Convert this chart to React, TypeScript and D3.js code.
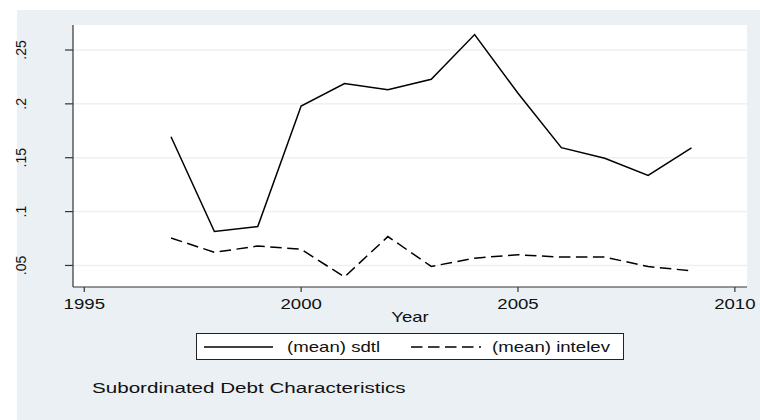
import React from "react";
import * as d3 from "d3";

const years = [1997, 1998, 1999, 2000, 2001, 2002, 2003, 2004, 2005, 2006, 2007, 2008, 2009];
const sdtl = [0.1695, 0.0815, 0.0862, 0.198, 0.2189, 0.2132, 0.2228, 0.2643, 0.2098, 0.1593, 0.1495, 0.1335, 0.1592];
const intelev = [0.0755, 0.0622, 0.068, 0.065, 0.0393, 0.0768, 0.0491, 0.0568, 0.0599, 0.0578, 0.0578, 0.049, 0.045];
const xTicks = [1995, 2000, 2005, 2010];
const yTicks = [0.05, 0.1, 0.15, 0.2, 0.25];
const yTickLabels = [".05", ".1", ".15", ".2", ".25"];
const seriesNames = ["(mean) sdtl", "(mean) intelev"];
const titleText = "Subordinated Debt Characteristics";
const xTitle = "Year";

const W = 760;
const H = 420;
const PL = 73, PR = 747, PT = 25, PB = 287;
const FONT = "'Liberation Sans', Arial, Helvetica, sans-serif";
const SX = 1.33;
const DASH = "11.5,5.5";

export default function App() {
  const x = d3.scaleLinear().domain([1994.74, 2010.28]).range([PL, PR]);
  const y = d3.scaleLinear().domain([0.03, 0.2732]).range([PB, PT]);
  const line = d3
    .line<[number, number]>()
    .x((d) => x(d[0]))
    .y((d) => y(d[1]));
  const sdtlPath = line(years.map((yr, i) => [yr, sdtl[i]] as [number, number])) || "";
  const intPath = line(years.map((yr, i) => [yr, intelev[i]] as [number, number])) || "";

  const hText = (
    key: string,
    tx: number,
    ty: number,
    s: string,
    anchor: string,
    size = 14
  ) => (
    <text
      key={key}
      transform={`translate(${tx},${ty}) scale(${SX},1)`}
      textAnchor={anchor}
      fontSize={size}
      fontFamily={FONT}
      fill="#111"
    >
      {s}
    </text>
  );

  return (
    <svg
      width={W}
      height={H}
      style={{ position: "absolute", left: 0, top: 0, background: "#fff" }}
    >
      <rect x={17} y={10} width={W - 17} height={H - 10} fill="#eaf0f3" />
      <rect x={PL} y={PT} width={PR - PL} height={PB - PT} fill="#ffffff" />
      {yTicks.map((t) => (
        <line
          key={"g" + t}
          x1={PL}
          x2={PR}
          y1={y(t)}
          y2={y(t)}
          stroke="#eaf2f3"
          strokeWidth={1.5}
        />
      ))}
      {/* axes */}
      <line x1={PL} x2={PL} y1={PT} y2={PB} stroke="#333" strokeWidth={1.2} />
      <line x1={PL} x2={PR} y1={PB} y2={PB} stroke="#333" strokeWidth={1.2} />
      {yTicks.map((t, i) => (
        <g key={"yt" + t}>
          <line x1={PL - 8} x2={PL} y1={y(t)} y2={y(t)} stroke="#333" strokeWidth={1.2} />
          <text
            transform={`translate(26,${y(t)}) rotate(-90)`}
            textAnchor="middle"
            fontSize={14}
            fontFamily={FONT}
            fill="#111"
          >
            {yTickLabels[i]}
          </text>
        </g>
      ))}
      {xTicks.map((t) => (
        <g key={"xt" + t}>
          <line x1={x(t)} x2={x(t)} y1={PB} y2={PB + 5} stroke="#333" strokeWidth={1.2} />
          {hText("xl" + t, x(t), 309, String(t), "middle")}
        </g>
      ))}
      {hText("xtitle", (PL + PR) / 2, 322, xTitle, "middle")}
      <path d={sdtlPath} fill="none" stroke="#000" strokeWidth={1.5} strokeLinejoin="miter" />
      <path d={intPath} fill="none" stroke="#000" strokeWidth={1.5} strokeDasharray={DASH} />
      {/* legend */}
      <rect x={196.5} y={333.5} width={427} height={26} fill="#fff" stroke="#222" strokeWidth={1} />
      <line x1={204} x2={273} y1={347} y2={347} stroke="#000" strokeWidth={1.5} />
      {hText("l1", 287, 352, seriesNames[0], "start")}
      <line x1={411} x2={481} y1={347} y2={347} stroke="#000" strokeWidth={1.5} strokeDasharray={DASH} />
      {hText("l2", 492, 352, seriesNames[1], "start")}
      {hText("title", 92, 393, titleText, "start", 15.5)}
    </svg>
  );
}
